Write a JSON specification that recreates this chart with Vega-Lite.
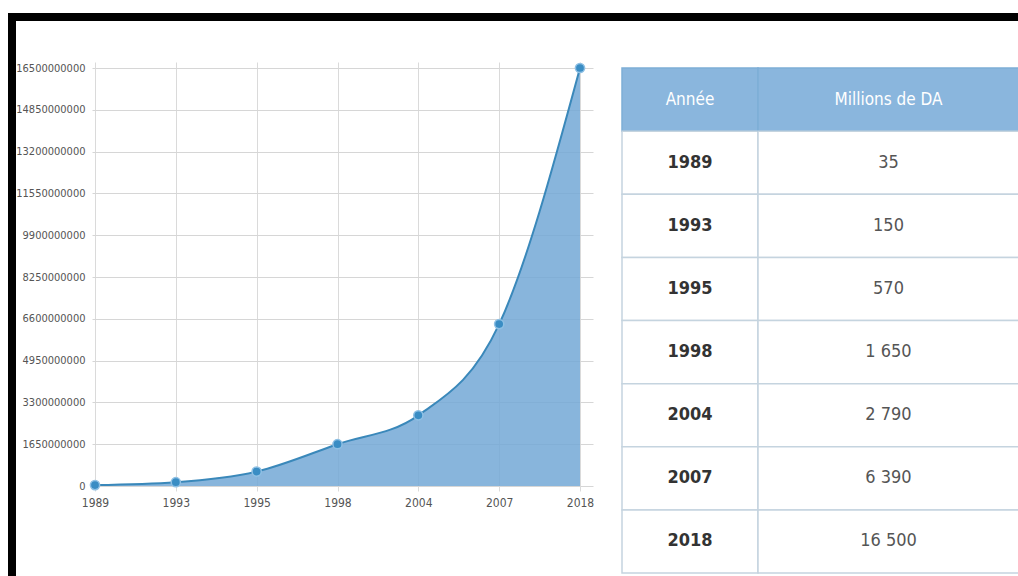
{
  "$schema": "https://vega.github.io/schema/vega-lite/v6.json",
  "background": "white",
  "padding": {"left": 8, "top": 13, "right": 0, "bottom": 0},
  "config": {"view": {"stroke": null}},
  "datasets": {
    "series": [
      {"year": "1989", "value": 35000000},
      {"year": "1993", "value": 150000000},
      {"year": "1995", "value": 570000000},
      {"year": "1998", "value": 1650000000},
      {"year": "2004", "value": 2790000000},
      {"year": "2007", "value": 6390000000},
      {"year": "2018", "value": 16500000000}
    ],
    "table": [
      {"r": 0, "a": "Année", "m": "Millions de DA"},
      {"r": 1, "a": "1989", "m": "35"},
      {"r": 2, "a": "1993", "m": "150"},
      {"r": 3, "a": "1995", "m": "570"},
      {"r": 4, "a": "1998", "m": "1 650"},
      {"r": 5, "a": "2004", "m": "2 790"},
      {"r": 6, "a": "2007", "m": "6 390"},
      {"r": 7, "a": "2018", "m": "16 500"}
    ]
  },
  "hconcat": [
    {
      "width": 8, "height": 563,
      "view": {"fill": "#000000", "stroke": null},
      "data": {"values": []},
      "mark": "rule",
      "encoding": {}
    },
    {
      "vconcat": [
        {
          "width": 1002, "height": 8,
          "view": {"fill": "#000000", "stroke": null},
          "data": {"values": []},
          "mark": "rule",
          "encoding": {}
        },
        {
          "hconcat": [
            {
              "width": 1, "height": 1,
              "data": {"values": []},
              "mark": "rule",
              "encoding": {}
            },
            {
              "hconcat": [
                {
                  "width": 485, "height": 418,
                  "data": {"name": "series"},
                  "encoding": {
                    "x": {"field": "year", "type": "ordinal", "scale": {"type": "point", "padding": 0},
                      "axis": {"orient": "bottom", "title": null, "labelAngle": 0, "grid": true, "gridColor": "#dadada", "tickColor": "#dadada", "tickSize": 5, "domain": false, "labelPadding": 6, "labelFont": "DejaVu Sans Condensed", "labelFontSize": 12, "labelColor": "#555555"}},
                    "y": {"field": "value", "type": "quantitative", "scale": {"domain": [0, 16500000000], "nice": false},
                      "axis": {"orient": "left", "title": null, "values": [0, 1650000000, 3300000000, 4950000000, 6600000000, 8250000000, 9900000000, 11550000000, 13200000000, 14850000000, 16500000000], "format": "d", "grid": true, "gridColor": "#d6d6d6", "tickColor": "#d6d6d6", "tickSize": 3, "domain": false, "labelPadding": 7, "labelFont": "DejaVu Sans Condensed", "labelFontSize": 11, "labelColor": "#555555"}}
                  },
                  "layer": [
                    {"mark": {"type": "area", "interpolate": "monotone", "color": "#73a8d6", "opacity": 0.85}},
                    {
                      "mark": {"type": "line", "interpolate": "monotone", "color": "#3a88ba", "strokeWidth": 2},
                      "encoding": {
                        "x": {"field": "year", "type": "ordinal", "axis": {"orient": "top", "title": null, "labels": false, "grid": false, "domain": false, "tickSize": 6, "tickColor": "#dadada"}},
                        "y": {"field": "value", "type": "quantitative", "axis": {"orient": "right", "title": null, "labels": false, "grid": false, "domain": false, "tickSize": 13, "tickColor": "#d6d6d6", "values": [0, 1650000000, 3300000000, 4950000000, 6600000000, 8250000000, 9900000000, 11550000000, 13200000000, 14850000000, 16500000000]}}
                      }
                    },
                    {
                      "mark": {"type": "point", "filled": true, "size": 85, "color": "#3a8dc4", "stroke": "#8fc0e4", "strokeWidth": 1.5, "opacity": 1},
                      "encoding": {
                        "x": {"field": "year", "type": "ordinal", "axis": null},
                        "y": {"field": "value", "type": "quantitative", "axis": null}
                      }
                    }
                  ],
                  "resolve": {"axis": {"x": "independent", "y": "independent"}}
                },
                {
                  "hconcat": [
                    {
                      "width": 136, "height": 505,
                      "data": {"name": "table"},
                      "encoding": {"y": {"field": "r", "type": "ordinal", "scale": {"type": "band", "paddingInner": 0, "paddingOuter": 0}, "axis": null}},
                      "layer": [
                        {"mark": {"type": "rect", "strokeWidth": 1.5},
                          "encoding": {
                            "fill": {"condition": {"test": "datum.r === 0", "value": "#8ab6dd"}, "value": "#ffffff"},
                            "stroke": {"condition": {"test": "datum.r === 0", "value": "#7eaed6"}, "value": "#c5d4df"}
                          }},
                        {"transform": [{"filter": "datum.r === 0"}],
                          "mark": {"type": "text", "font": "DejaVu Sans Condensed", "fontSize": 17, "color": "#ffffff"},
                          "encoding": {"text": {"field": "a"}}},
                        {"transform": [{"filter": "datum.r > 0"}],
                          "mark": {"type": "text", "font": "DejaVu Sans Condensed", "fontSize": 18, "fontWeight": "bold", "color": "#333333"},
                          "encoding": {"text": {"field": "a"}}}
                      ]
                    },
                    {
                      "width": 261, "height": 505,
                      "data": {"name": "table"},
                      "encoding": {"y": {"field": "r", "type": "ordinal", "scale": {"type": "band", "paddingInner": 0, "paddingOuter": 0}, "axis": null}},
                      "layer": [
                        {"mark": {"type": "rect", "strokeWidth": 1.5},
                          "encoding": {
                            "fill": {"condition": {"test": "datum.r === 0", "value": "#8ab6dd"}, "value": "#ffffff"},
                            "stroke": {"condition": {"test": "datum.r === 0", "value": "#7eaed6"}, "value": "#c5d4df"}
                          }},
                        {"transform": [{"filter": "datum.r === 0"}],
                          "mark": {"type": "text", "font": "DejaVu Sans Condensed", "fontSize": 17, "color": "#ffffff"},
                          "encoding": {"text": {"field": "m"}}},
                        {"transform": [{"filter": "datum.r > 0"}],
                          "mark": {"type": "text", "font": "DejaVu Sans Condensed", "fontSize": 18, "color": "#555555"},
                          "encoding": {"text": {"field": "m"}}}
                      ]
                    }
                  ],
                  "spacing": 0,
                  "bounds": "flush"
                }
              ],
              "spacing": 42,
              "bounds": "flush"
            }
          ],
          "spacing": 78,
          "bounds": "flush"
        }
      ],
      "spacing": 47,
      "bounds": "flush"
    }
  ],
  "spacing": 0,
  "bounds": "flush"
}
